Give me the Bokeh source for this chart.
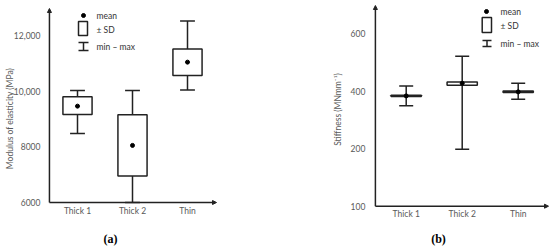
from bokeh.plotting import figure
from bokeh.models import Range1d, Arrow, NormalHead, TeeHead, Label
from bokeh.core.properties import value
from bokeh.embed import file_html
from bokeh.resources import INLINE

# ---------------- data ----------------
cats = ["Thick 1", "Thick 2", "Thin"]

a_mean = [9460, 8050, 11040]
a_sd_lo = [9160, 6950, 10560]
a_sd_hi = [9800, 9150, 11510]
a_min = [8480, 6000, 10040]
a_max = [10020, 10020, 12520]
a_ticks = [6000, 8000, 10000, 12000]
a_tick_labels = ["6000", "8000", "10,000", "12,000"]

b_mean = [383, 427, 397]
b_sd_lo = [381, 420, 395]
b_sd_hi = [385, 431, 400]
b_min = [349, 198, 371]
b_max = [417, 521, 427]
b_ticks = [0, 200, 400, 600]
b_tick_labels = ["100", "200", "400", "600"]

legend_texts = ["mean", "\u00b1 SD", "min \u2013 max"]

# ---------------- layout (pixels) ----------------
W, H = 550, 246
FONT = "Lato"
TXT = "#595959"
INK = "#222222"

# panel geometry: axis origin pixel, px per category, px per y unit
A = dict(ox=49.5, oy=202.0, y0=6000, ppx=55.0, ppy=55.7 / 2000, xtop=8.0, xend=216.0,
         axis_dx=-0.01, tick_off=-9, cat_off=3)
B = dict(ox=377.7, oy=205.7, y0=0, ppx=56.0, ppy=57.6 / 200, xtop=5.0, xend=548.0,
         axis_dx=-0.05, tick_off=-10, cat_off=3)


def xr(g):
    return Range1d(-g["ox"] / g["ppx"], (W - g["ox"]) / g["ppx"])


def yr(g):
    return Range1d(g["y0"] - (H - g["oy"]) / g["ppy"], g["y0"] + g["oy"] / g["ppy"])


p = figure(width=W, height=H, output_backend="svg", toolbar_location=None,
           x_range=xr(A), y_range=yr(A), min_border=0,
           x_axis_location=None, y_axis_location=None)
p.extra_x_ranges = {"bx": xr(B), "px": Range1d(0, W)}
p.extra_y_ranges = {"by": yr(B), "px": Range1d(H, 0)}
p.outline_line_color = None
p.grid.visible = False
p.background_fill_color = "white"
p.border_fill_color = "white"


def draw_panel(g, xrn, yrn, means, lo, hi, mins, maxs, ticks, tlabels, box_w, cap_w):
    kw = {}
    if xrn:
        kw = dict(x_range_name=xrn, y_range_name=yrn)
    xs = [i + 0.5 for i in range(len(cats))]
    ax0 = g["axis_dx"]
    # whiskers
    p.segment(xs, mins, xs, maxs, line_color=INK, line_width=1.5, **kw)
    p.segment([x - cap_w / 2 for x in xs], mins, [x + cap_w / 2 for x in xs], mins, line_color=INK, line_width=1.5, **kw)
    p.segment([x - cap_w / 2 for x in xs], maxs, [x + cap_w / 2 for x in xs], maxs, line_color=INK, line_width=1.5, **kw)
    # SD boxes
    p.quad(left=[x - box_w / 2 for x in xs], right=[x + box_w / 2 for x in xs], bottom=lo, top=hi,
           fill_color="white", line_color=INK, line_width=1.5, **kw)
    # means
    p.scatter(xs, means, size=4, color="black", **kw)
    # axes
    ytop = g["y0"] + (g["oy"] - g["xtop"]) / g["ppy"]
    xend = (g["xend"] - g["ox"]) / g["ppx"]
    p.add_layout(Arrow(x_start=ax0, y_start=g["y0"], x_end=ax0, y_end=ytop, line_color=INK, line_width=1.5,
                       end=NormalHead(size=4, line_color=INK, fill_color=INK), **kw))
    p.add_layout(Arrow(x_start=ax0, y_start=g["y0"], x_end=xend, y_end=g["y0"], line_color=INK, line_width=1.5,
                       end=NormalHead(size=4, line_color=INK, fill_color=INK), **kw))
    # tick labels
    p.text(x=[ax0] * len(ticks), y=ticks, text=tlabels, x_offset=g["tick_off"], text_align="right",
           text_baseline="middle", text_font=value(FONT), text_font_size="8.5px", text_color=TXT, **kw)
    p.text(x=xs, y=[g["y0"]] * len(xs), text=cats, y_offset=g["cat_off"], text_align="center",
           text_baseline="top", text_font=value(FONT), text_font_size="8.5px", text_color=TXT, **kw)


draw_panel(A, None, None, a_mean, a_sd_lo, a_sd_hi, a_min, a_max, a_ticks, a_tick_labels, 0.53, 0.27)
draw_panel(B, "bx", "by", b_mean, b_sd_lo, b_sd_hi, b_min, b_max, b_ticks, b_tick_labels, 0.54, 0.25)

PX = dict(x_range_name="px", y_range_name="px")


def legend(dot, box, whisk, tx, tys):
    p.scatter([dot[0]], [dot[1]], size=4, color="black", **PX)
    p.quad(left=[box[0]], right=[box[1]], top=[box[2]], bottom=[box[3]], fill_color="white",
           line_color=INK, line_width=1.5, **PX)
    wc = (whisk[0] + whisk[1]) / 2
    p.add_layout(Arrow(x_start=wc, y_start=whisk[2], x_end=wc, y_end=whisk[3], line_color=INK, line_width=1.5,
                       start=TeeHead(size=whisk[1] - whisk[0], line_color=INK, line_width=1.5),
                       end=TeeHead(size=whisk[1] - whisk[0], line_color=INK, line_width=1.5), **PX))
    for t, ty in zip(legend_texts, tys):
        p.add_layout(Label(x=tx, y=ty, text=t, text_font=FONT, text_font_size="8.5px",
                           text_color="#333333", text_baseline="middle", text_align="left", **PX))


legend((83, 15), (78, 87, 21, 35), (78, 88, 42, 50), 96, [15, 29, 46])
legend((486, 11), (481.7, 491, 17, 32), (482, 491, 40, 46), 500, [11.7, 25, 43.7])

# axis titles
p.add_layout(Label(x=9, y=118, text="Modulus of elasticity (MPa)", angle=90, angle_units="deg",
                   text_font=FONT, text_font_size="8.5px", text_color=TXT, text_align="center",
                   text_baseline="middle", **PX))
p.add_layout(Label(x=337, y=109, text="Stiffness (MNmm\u207b\u00b9)", angle=90, angle_units="deg",
                   text_font=FONT, text_font_size="8.5px", text_color=TXT, text_align="center",
                   text_baseline="middle", **PX))
# panel tags
for t, x in (("(a)", 110), ("(b)", 438)):
    p.add_layout(Label(x=x, y=238, text=t, text_font="Liberation Serif", text_font_size="12px",
                       text_font_style="bold", text_color="black", text_align="center",
                       text_baseline="middle", **PX))

open("out.html", "w").write(file_html(p, INLINE))
